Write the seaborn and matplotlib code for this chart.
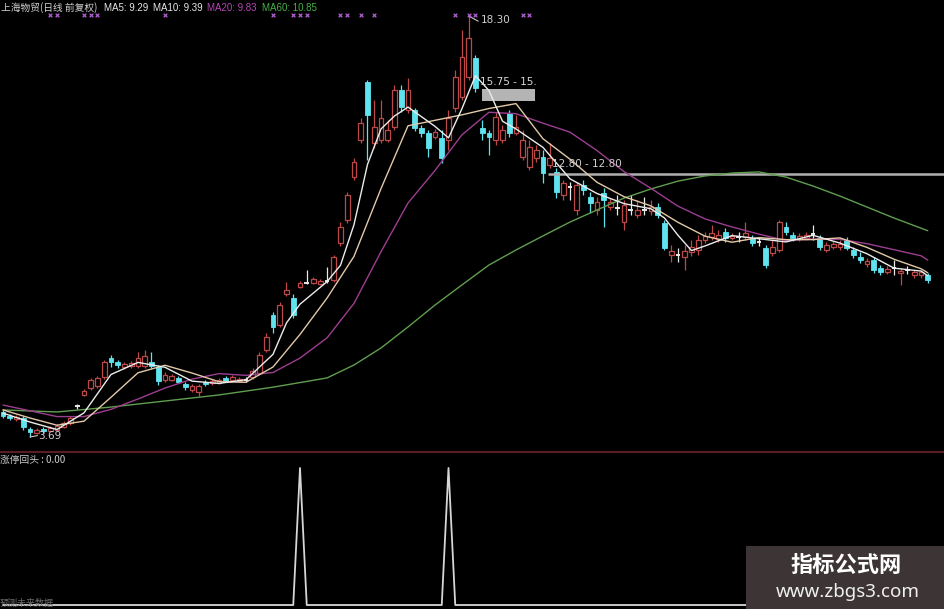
import numpy as np
import pandas as pd
import matplotlib
matplotlib.use("Agg")
import matplotlib.pyplot as plt
import seaborn as sns
from matplotlib.patches import Rectangle
from matplotlib.lines import Line2D

sns.set_theme(style="dark")
plt.rcParams['font.family'] = ['Noto Sans CJK SC', 'DejaVu Sans']
plt.rcParams['axes.unicode_minus'] = False

# ---------------- data (daily OHLC, 前复权) ----------------
opens = [4.56, 4.42, 4.31, 4.35, 3.97, 3.83, 3.97, 3.90, 3.93, 4.04,
         4.18, 4.75, 5.15, 5.39, 5.46, 5.77, 6.43, 6.29, 6.12, 6.15,
         6.15, 6.15, 6.29, 6.12, 5.67, 5.67, 5.74, 5.53, 5.32, 5.25,
         5.60, 5.56, 5.56, 5.74, 5.67, 5.63, 5.66, 5.77, 5.91, 6.71,
         7.92, 7.58, 8.65, 8.51, 8.90, 9.05, 9.03, 9.00, 9.10, 9.14,
         10.42, 11.22, 12.71, 14.00, 16.01, 13.89, 14.00, 14.00, 14.45, 15.73,
         15.04, 15.04, 14.41, 14.24, 14.10, 14.07, 14.00, 15.11, 15.49, 16.18,
         16.84, 14.41, 14.24, 14.00, 14.00, 14.93, 14.24, 13.41, 13.06, 13.37,
         13.41, 13.13, 12.89, 12.09, 12.35, 11.57, 12.44, 12.02, 11.57, 12.16,
         11.67, 11.64, 11.15, 11.57, 11.40, 11.57, 11.53, 11.67, 11.12, 10.00,
         10.02, 9.94, 10.11, 10.18, 10.53, 10.63, 10.56, 10.80, 10.60, 10.63,
         10.63, 10.60, 10.46, 10.25, 10.07, 10.18, 10.98, 10.70, 10.56, 10.60,
         10.73, 10.60, 10.18, 10.28, 10.28, 10.53, 10.18, 9.94, 9.69, 9.83,
         9.56, 9.42, 9.56, 9.38, 9.49, 9.31, 9.31, 9.31]
highs = [4.63, 4.49, 4.46, 4.42, 4.04, 4.00, 4.04, 4.07, 4.14, 4.25,
         4.42, 4.84, 5.36, 5.74, 5.80, 6.36, 6.54, 6.36, 6.29, 6.33,
         6.64, 6.71, 6.64, 6.19, 5.95, 5.88, 5.80, 5.60, 5.53, 5.53,
         5.67, 5.70, 5.74, 5.80, 5.84, 5.77, 5.77, 6.09, 6.64, 7.30,
         8.03, 8.38, 9.07, 8.65, 9.10, 9.49, 9.24, 9.17, 9.59, 10.01,
         11.15, 12.19, 13.37, 14.76, 16.08, 15.39, 15.39, 14.69, 15.90, 15.90,
         16.15, 15.11, 14.52, 14.34, 14.38, 14.34, 15.04, 16.43, 17.81, 18.30,
         16.95, 14.69, 14.34, 14.97, 14.52, 15.04, 14.86, 14.34, 14.00, 13.82,
         13.65, 13.89, 13.03, 12.61, 12.54, 12.54, 12.61, 12.19, 12.02, 12.33,
         11.98, 12.09, 11.92, 12.09, 11.92, 12.02, 11.92, 11.81, 11.22, 10.35,
         10.25, 10.35, 10.53, 10.70, 10.81, 11.05, 10.87, 10.94, 10.77, 10.80,
         11.15, 10.70, 10.60, 10.35, 10.53, 11.22, 11.15, 10.80, 10.77, 10.80,
         11.05, 10.70, 10.46, 10.49, 10.53, 10.63, 10.28, 10.11, 9.90, 9.94,
         9.66, 9.63, 9.83, 9.56, 9.63, 9.49, 9.49, 9.38]
lows = [4.35, 4.28, 4.25, 3.93, 3.69, 3.80, 3.83, 3.87, 3.90, 4.00,
        4.11, 4.66, 5.11, 5.32, 5.39, 5.70, 6.12, 6.09, 6.05, 6.09,
        6.09, 6.09, 6.09, 5.50, 5.60, 5.63, 5.56, 5.32, 5.25, 5.11,
        5.46, 5.50, 5.53, 5.60, 5.63, 5.60, 5.60, 5.70, 5.84, 6.64,
        7.30, 7.51, 8.58, 7.82, 8.86, 9.00, 9.00, 8.96, 9.03, 9.07,
        10.32, 11.12, 12.61, 13.89, 13.30, 13.72, 13.89, 13.93, 14.34, 14.97,
        14.93, 14.31, 14.10, 13.41, 14.03, 13.20, 13.65, 14.97, 15.39, 16.08,
        15.66, 14.00, 13.48, 13.83, 13.89, 14.10, 14.17, 13.30, 12.96, 13.23,
        12.50, 13.03, 11.98, 11.92, 11.92, 11.40, 12.09, 11.46, 11.40, 10.98,
        11.57, 11.40, 10.87, 11.40, 11.29, 11.40, 11.40, 11.29, 10.18, 9.76,
        9.76, 9.49, 9.97, 10.00, 10.42, 10.53, 10.46, 10.46, 10.53, 10.46,
        10.53, 10.32, 10.32, 9.56, 9.97, 10.11, 10.70, 10.49, 10.49, 10.53,
        10.53, 10.18, 10.11, 10.21, 10.18, 10.18, 9.90, 9.73, 9.59, 9.38,
        9.31, 9.35, 9.31, 8.96, 9.35, 9.21, 9.21, 9.03]
closes = [4.42, 4.35, 4.38, 4.04, 3.87, 3.93, 3.90, 4.00, 4.07, 4.18,
          4.35, 4.75, 5.29, 5.67, 5.74, 6.29, 6.29, 6.19, 6.22, 6.26,
          6.43, 6.50, 6.15, 5.63, 5.84, 5.80, 5.60, 5.43, 5.46, 5.46,
          5.53, 5.63, 5.67, 5.63, 5.77, 5.70, 5.66, 5.98, 6.54, 7.16,
          7.51, 8.27, 8.79, 7.92, 9.03, 9.05, 9.17, 9.10, 9.10, 9.94,
          10.98, 12.09, 13.23, 14.59, 14.86, 14.45, 14.76, 14.34, 15.73, 15.14,
          15.73, 14.41, 14.24, 13.72, 14.27, 13.37, 14.76, 16.18, 16.88, 17.54,
          15.80, 14.24, 14.10, 14.79, 14.34, 14.24, 14.45, 14.00, 13.75, 13.65,
          12.85, 13.37, 12.19, 12.50, 12.35, 12.44, 12.26, 11.81, 11.85, 11.92,
          11.85, 11.64, 11.74, 11.57, 11.57, 11.57, 11.67, 11.40, 10.25, 10.14,
          10.02, 10.14, 10.28, 10.53, 10.66, 10.77, 10.70, 10.60, 10.66, 10.63,
          10.77, 10.42, 10.46, 9.66, 10.28, 11.15, 10.80, 10.60, 10.66, 10.70,
          10.73, 10.28, 10.35, 10.39, 10.39, 10.25, 10.00, 9.83, 9.80, 9.49,
          9.42, 9.52, 9.56, 9.45, 9.49, 9.42, 9.42, 9.14]

# moving averages (bar index, value)
ma5_idx = [0, 4, 8, 12, 16, 20, 24, 28, 32, 36, 40, 42, 44, 48, 50, 52, 54, 56, 58, 60,
           64, 66, 68, 70, 72, 74, 76, 80, 84, 88, 92, 96, 98, 100, 102, 104, 108, 112,
           116, 120, 124, 128, 132, 136, 137]
ma5 = [4.52, 4.21, 3.95, 4.53, 5.86, 6.28, 6.11, 5.63, 5.55, 5.68, 6.56, 7.65, 8.30, 9.08,
       9.65, 11.06, 13.15, 14.38, 14.83, 15.14, 14.47, 14.07, 15.09, 16.23, 15.71, 14.65,
       14.38, 13.74, 12.65, 12.14, 11.79, 11.61, 11.29, 10.69, 10.16, 10.32, 10.68, 10.57,
       10.46, 10.69, 10.42, 10.05, 9.55, 9.45, 9.29]
ma10_idx = [0, 4, 8, 12, 16, 20, 24, 28, 32, 36, 40, 44, 48, 52, 56, 60, 64, 68, 72, 76,
            80, 84, 88, 92, 96, 100, 104, 108, 112, 116, 120, 124, 128, 132, 136, 137]
ma10 = [4.63, 4.35, 4.10, 4.24, 5.07, 5.92, 6.18, 5.91, 5.61, 5.59, 6.12, 7.25, 8.51, 9.96,
        12.31, 14.49, 14.68, 14.87, 15.09, 15.26, 14.04, 13.33, 12.53, 12.03, 11.71, 11.14,
        10.66, 10.45, 10.61, 10.54, 10.54, 10.60, 10.27, 9.86, 9.53, 9.39]
ma20_idx = ma10_idx
ma20 = [4.80, 4.60, 4.40, 4.40, 4.65, 5.01, 5.39, 5.70, 5.89, 5.83, 5.93, 6.43, 7.13, 8.33,
        10.12, 11.81, 12.94, 14.18, 14.96, 14.91, 14.58, 14.27, 13.63, 12.90, 12.32, 11.70,
        11.26, 10.98, 10.73, 10.51, 10.56, 10.55, 10.40, 10.19, 9.98, 9.83]
ma60_idx = [0, 8, 16, 24, 32, 40, 48, 52, 56, 60, 64, 68, 72, 76, 80, 84, 88, 92, 96, 100,
            104, 108, 112, 116, 120, 124, 128, 132, 137]
ma60 = [4.63, 4.56, 4.73, 4.94, 5.15, 5.42, 5.74, 6.19, 6.78, 7.51, 8.27, 8.97, 9.66, 10.18,
        10.67, 11.15, 11.57, 11.98, 12.30, 12.57, 12.75, 12.85, 12.89, 12.71, 12.40, 12.05,
        11.67, 11.29, 10.85]

signal_bars = [44, 66]                       # 涨停回头 signal fired
marker_bars = [7, 8, 12, 13, 14, 24, 40, 43, 44, 45, 50, 51, 53, 55, 67, 69, 70, 77, 78]

title_text = "上海物贸(日线 前复权)"
ma_labels = ["MA5: 9.29", "MA10: 9.39", "MA20: 9.83", "MA60: 10.85"]
ind_label = "涨停回头 : 0.00"

# ---------------- styling ----------------
RED = "#bd4848"
CYAN = "#5fe4ef"
WHITE = "#e8e8e8"
C_MA5 = "#ececec"
C_MA10 = "#e2c9a8"
C_MA20 = "#9c3e90"
C_MA60 = "#5f9e4e"

W, H = 945, 609
fig = plt.figure(figsize=(W / 100, H / 100), dpi=100, facecolor="black")
ax = fig.add_axes([0, 1 - 450 / H, 1, 450 / H])
ax2 = fig.add_axes([0, 0, 1, 156 / H])
for a in (ax, ax2):
    a.set_facecolor("black")
    a.set_axis_off()

n = len(closes)
xs = np.arange(n)
o = np.array(opens); h = np.array(highs); l = np.array(lows); c = np.array(closes)
up = c > o
dn = c < o
eq = c == o

bw = 0.7
# wicks
ax.vlines(xs[up], l[up], h[up], color=RED, lw=0.9, zorder=2)
ax.vlines(xs[dn], l[dn], h[dn], color=CYAN, lw=0.9, zorder=2)
ax.vlines(xs[eq], l[eq], h[eq], color=WHITE, lw=0.9, zorder=2)
# bodies
ax.bar(xs[up], (c - o)[up], bottom=o[up], width=bw, facecolor="black",
       edgecolor=RED, linewidth=0.9, zorder=3)
ax.bar(xs[dn], (o - c)[dn], bottom=c[dn], width=bw, facecolor=CYAN,
       edgecolor=CYAN, linewidth=0.6, zorder=3)
ax.hlines(c[eq], xs[eq] - bw / 2, xs[eq] + bw / 2, color=WHITE, lw=1.4, zorder=3)

# moving averages
for idx, vals, col in [(ma60_idx, ma60, C_MA60), (ma20_idx, ma20, C_MA20),
                       (ma10_idx, ma10, C_MA10), (ma5_idx, ma5, C_MA5)]:
    df = pd.DataFrame({"bar": idx, "ma": vals})
    sns.lineplot(data=df, x="bar", y="ma", ax=ax, color=col, lw=1.0,
                 estimator=None, sort=False, legend=False, zorder=4)

ax.set_xlim(-3 / 6.75, 942 / 6.75)
ax.set_ylim(3.24, 18.855)
ax.set_axis_off()

# annotations in the main panel
ax.plot([69, 70.4], [18.30, 18.12], color="#c8c8c8", lw=0.8, zorder=5)
ax.text(70.8, 18.16, "18.30", color="#d0d0d0", fontsize=7.5, va="center", ha="left",
        family="DejaVu Sans", zorder=6)
ax.plot([4, 5.1], [3.69, 3.74], color="#c8c8c8", lw=0.8, zorder=5)
ax.text(5.2, 3.74, "3.69", color="#d0d0d0", fontsize=7.5, va="center", ha="left",
        family="DejaVu Sans", zorder=6)
ax.add_patch(Rectangle((70.9, 15.35), 7.9, 0.42, facecolor="#b4b4b4",
                       edgecolor="none", zorder=3.5))
ax.text(70.6, 16.02, "15.75 - 15.", color="#d8d8d8", fontsize=7.5, va="center",
        ha="left", family="DejaVu Sans", zorder=6)
ax.hlines(12.80, 80.7, 140, color="#b0b0b0", lw=1.8, zorder=3.6)
ax.text(81.4, 13.18, "12.80 - 12.80", color="#d0d0d0", fontsize=7.5, va="center",
        ha="left", family="DejaVu Sans", zorder=6)
ax.scatter(marker_bars, [1 - 15 / 450] * len(marker_bars), marker="x", s=7,
           color="#b060d0", linewidths=0.9, transform=ax.get_xaxis_transform(),
           zorder=6)

# indicator panel
sig = pd.DataFrame({"bar": xs, "v": [1 if i in signal_bars else 0 for i in xs]})
sns.lineplot(data=sig, x="bar", y="v", ax=ax2, color="#d6d6d6", lw=1.3,
             estimator=None, legend=False)
ax2.set_xlim(-3 / 6.75, 942 / 6.75)
ax2.set_ylim(-4 / 137, 1 + 15 / 137)
ax2.set_axis_off()

# separator line
fig.add_artist(Line2D([0, 1], [1 - 452 / H] * 2, transform=fig.transFigure,
                      color="#5a1c24", lw=1.6))

# header texts
def ftext(px, py, s, col, fs=7, **kw):
    fig.text(px / W, 1 - py / H, s, color=col, fontsize=fs, va="center", ha="left", **kw)

ftext(1, 8, title_text, "#d2d2d2")
ftext(104, 8, ma_labels[0], "#e6e6e6", family="Liberation Sans")
ftext(153, 8, ma_labels[1], "#e6e6e6", family="Liberation Sans")
ftext(207, 8, ma_labels[2], "#b448b4", family="Liberation Sans")
ftext(262, 8, ma_labels[3], "#48b048", family="Liberation Sans")
ftext(0, 460, ind_label, "#cccccc")
ftext(0, 603, "预测未来数据", "#6a6a6a", fs=6.5)

# watermark box
fig.add_artist(Rectangle((746 / W, 0), 199 / W, 63 / H, transform=fig.transFigure,
                         facecolor="#3d3535", edgecolor="none", zorder=10))
fig.text(846 / W, 1 - 565 / H, "指标公式网", color="white", fontsize=16,
         fontweight="bold", ha="center", va="center", zorder=11)
fig.text(848 / W, 1 - 592 / H, "www.zbgs3.com", color="#f0f0f0", fontsize=13.5,
         ha="center", va="center", zorder=11, family="Noto Sans")

fig.savefig("out.png", dpi=100, facecolor="black")
